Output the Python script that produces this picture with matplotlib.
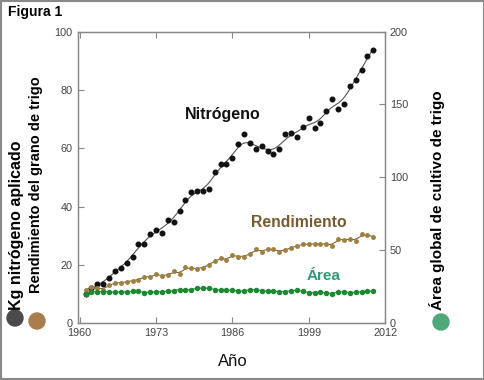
import numpy as np
import matplotlib.pyplot as plt
from matplotlib.patches import Rectangle, Ellipse

plt.rcParams['font.family'] = ['Liberation Sans', 'DejaVu Sans']

# datos (1961-2010)
anios = np.arange(1961, 2011)
nitrogeno = [10.0, 12.0, 13.5, 13.5, 15.6, 18.1, 19.1, 20.6, 22.7, 27.3,
             27.3, 30.7, 32.0, 31.1, 35.4, 34.7, 38.6, 42.3, 44.9, 45.3,
             45.3, 46.1, 52.0, 54.6, 54.6, 56.7, 61.5, 64.9, 61.7, 59.8,
             60.7, 59.2, 58.0, 59.8, 64.8, 65.3, 63.8, 67.4, 70.5, 66.8,
             68.6, 72.9, 76.8, 73.5, 75.2, 81.3, 83.3, 86.9, 91.7, 93.8]
rendimiento = [11.5, 12.3, 12.0, 11.6, 13.0, 14.0, 13.8, 14.3, 14.6, 14.9,
               16.0, 16.0, 16.8, 16.3, 16.5, 17.9, 16.8, 19.2, 18.9, 18.7,
               19.1, 20.0, 21.4, 22.3, 21.7, 23.5, 22.9, 22.9, 23.7, 25.5,
               24.6, 25.5, 25.4, 24.6, 25.2, 26.0, 26.5, 27.1, 27.2, 27.2,
               27.3, 27.2, 26.6, 29.0, 28.6, 28.9, 28.3, 30.5, 30.3, 29.7]
# área en la escala derecha (0-200)
area = [20.0, 21.5, 21.8, 21.8, 21.6, 21.4, 21.6, 21.6, 21.9, 22.1,
        21.1, 21.6, 21.6, 21.6, 22.0, 22.5, 23.2, 22.7, 23.2, 24.1,
        24.1, 24.1, 23.2, 22.7, 22.7, 22.7, 22.1, 22.4, 23.0, 23.2,
        22.4, 22.1, 22.1, 21.8, 21.8, 22.4, 22.7, 22.0, 21.1, 21.1,
        21.4, 20.9, 20.4, 21.6, 21.6, 21.1, 21.4, 21.6, 22.3, 22.1]

anios_x = [1960, 1973, 1986, 1999, 2012]


# Suavizado local (regresión lineal ponderada)
def suavizar(x, y, ancho, xf):
    x = np.asarray(x, float)
    y = np.asarray(y, float)
    res = []
    for x0 in xf:
        w = np.exp(-0.5 * ((x - x0) / ancho) ** 2)
        A = np.vstack([np.ones_like(x), x - x0]).T
        W = np.diag(w)
        b = np.linalg.solve(A.T @ W @ A, A.T @ W @ y)
        res.append(b[0])
    return np.array(res)


fig = plt.figure(figsize=(4.85, 3.8), dpi=100)
ax = fig.add_axes([0.160, 0.149, 0.634, 0.768])
ax2 = ax.twinx()

xf = np.linspace(1962, 2010, 400)
ax.plot(xf, suavizar(anios, nitrogeno, 1.3, xf), color='#555555', lw=0.8)
ax.plot(anios, nitrogeno, 'o', color='#111111', ms=3.3)

xf2 = np.linspace(1961, 2010, 400)
ax.plot(xf2, suavizar(anios, rendimiento, 0.7, xf2), color='#6b5a3a', lw=0.7)
ax.plot(anios, rendimiento, 'o', color='#a08040', ms=2.5)

ax2.plot(anios, area, color='#1f8a3a', lw=0.8)
ax2.plot(anios, area, 'o', color='#1a8a30', ms=2.9)

ax.set_xlim(1959.65, 2012)
ax.set_ylim(0, 100)
ax2.set_ylim(0, 200)
ax.set_xticks(anios_x)
ax.set_yticks([0, 20, 40, 60, 80, 100])
ax2.set_yticks([0, 50, 100, 150, 200])

for a in (ax, ax2):
    a.tick_params(direction='in', length=4, width=0.8, color='#888888',
                  labelsize=7.8, labelcolor='#444444')
    for s in a.spines.values():
        s.set_color('#888888')
        s.set_linewidth(0.9)
ax.tick_params(axis='x', top=True)

# textos
ax.text(1984.3, 71.5, 'Nitrógeno', fontsize=11.5, fontweight='bold',
        color='#111111', ha='center', va='center')
ax.text(1997.3, 34.7, 'Rendimiento', fontsize=11.3, fontweight='bold',
        color='#7a5a30', ha='center', va='center')
ax.text(2001.5, 16.3, 'Área', fontsize=11, fontweight='bold',
        color='#2f9a78', ha='center', va='center')

fig.text(233 / 485, 1 - 361 / 380, 'Año', fontsize=12, ha='center',
         va='center', color='#111111')
fig.text(8 / 485, 1 - 12 / 380, 'Figura 1', fontsize=10, fontweight='bold',
         ha='left', va='center')

fig.text(17 / 485, 1 - 310 / 380, 'Kg nitrógeno aplicado', fontsize=11.5,
         fontweight='bold', rotation=90, rotation_mode='anchor',
         ha='left', va='center')
fig.text(36 / 485, 1 - 293 / 380, 'Rendimiento del grano de trigo',
         fontsize=10.5, fontweight='bold', rotation=90,
         rotation_mode='anchor', ha='left', va='center')
fig.text(437 / 485, 1 - 310 / 380, 'Área global de cultivo de trigo',
         fontsize=11, fontweight='bold', rotation=90,
         rotation_mode='anchor', ha='left', va='center')

# círculos de leyenda
for cx, cy, col in [(15, 318, '#4a4a4a'), (37, 321, '#a87c4c'),
                    (441, 322, '#4fa87a')]:
    fig.add_artist(Ellipse((cx / 485, 1 - cy / 380), 16 / 485, 16 / 380,
                           transform=fig.transFigure, color=col))

fig.add_artist(Rectangle((0.002, 0.003), 0.995, 0.994, transform=fig.transFigure,
                         fill=False, edgecolor='#888888', lw=1.5))

fig.savefig('out.png', dpi=100)
